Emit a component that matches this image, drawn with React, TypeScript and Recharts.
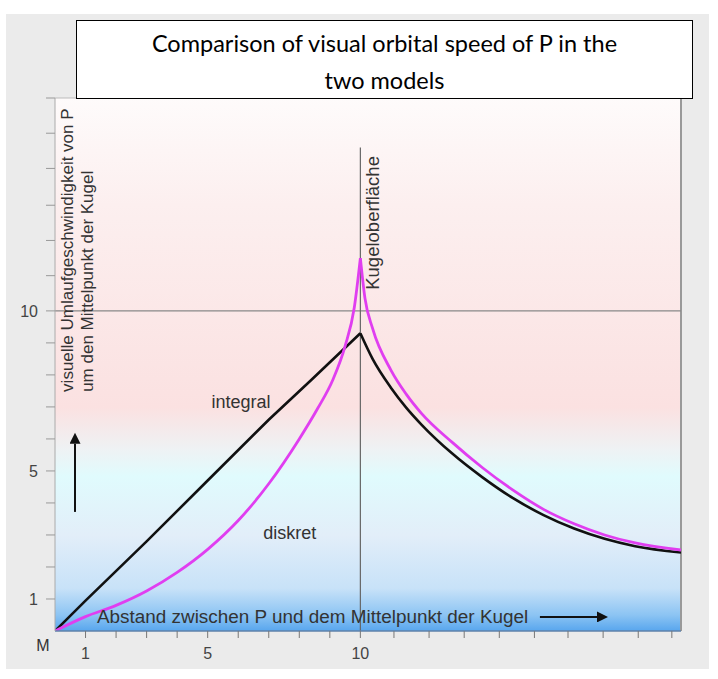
import { CartesianGrid, Line, LineChart, ReferenceDot, ReferenceLine, XAxis, YAxis } from "recharts"

// distance from M (x) -> visual orbital speed (y)
const integralInside = [
  { x: 0, y: 0 },
  { x: 1, y: 0.95 },
  { x: 3, y: 2.8 },
  { x: 5, y: 4.7 },
  { x: 7, y: 6.6 },
  { x: 8.4, y: 7.85 },
  { x: 10, y: 9.3 },
]
const integralOutside = [
  { x: 10, y: 9.3 },
  { x: 10.4, y: 8.5 },
  { x: 11, y: 7.6 },
  { x: 11.5, y: 6.98 },
  { x: 12, y: 6.45 },
  { x: 13, y: 5.55 },
  { x: 14, y: 4.8 },
  { x: 15, y: 4.15 },
  { x: 16, y: 3.62 },
  { x: 17, y: 3.2 },
  { x: 18, y: 2.88 },
  { x: 19, y: 2.65 },
  { x: 20.5, y: 2.45 },
]
const diskretInside = [
  { x: 0, y: 0 },
  { x: 1, y: 0.45 },
  { x: 2, y: 0.8 },
  { x: 3, y: 1.25 },
  { x: 4, y: 1.83 },
  { x: 5, y: 2.55 },
  { x: 6, y: 3.45 },
  { x: 7, y: 4.6 },
  { x: 8, y: 6.0 },
  { x: 8.6, y: 6.95 },
  { x: 9.1, y: 7.85 },
  { x: 9.5, y: 8.9 },
  { x: 9.8, y: 10.1 },
  { x: 10, y: 11.65 },
]
const diskretOutside = [
  { x: 10, y: 11.65 },
  { x: 10.15, y: 10.4 },
  { x: 10.4, y: 9.45 },
  { x: 11, y: 8.15 },
  { x: 11.5, y: 7.4 },
  { x: 12, y: 6.8 },
  { x: 13, y: 5.9 },
  { x: 14, y: 5.1 },
  { x: 15, y: 4.4 },
  { x: 16, y: 3.8 },
  { x: 17, y: 3.35 },
  { x: 18, y: 3.0 },
  { x: 19, y: 2.75 },
  { x: 20.5, y: 2.53 },
]

const xTicks = [1, 2, 3, 4, 5, 6, 7, 8, 9, 10, 11.1, 12.25, 13.4, 14.55, 15.7, 16.8, 17.95, 19.1, 20.2]
const xTickLabels = [1, 5, 10]
const yTicks = [1, 2, 3, 4, 5, 6, 7, 8, 9, 10, 11.1, 12.2, 13.3, 14.45, 15.55, 16.65]
const yTickLabels = [1, 5, 10]

const FONT = "'Liberation Sans', Arial, sans-serif"
const TEXT = "#333"

// rotated text, starting at the anchor point and running upwards
function RotLabel({ viewBox, text, size }: any) {
  const x = viewBox.x + viewBox.width / 2
  const y = viewBox.y + viewBox.height / 2
  return (
    <text
      x={x}
      y={y}
      fontSize={size}
      fill={TEXT}
      fontFamily={FONT}
      textAnchor="start"
      dominantBaseline="central"
      transform={`rotate(-90 ${x} ${y})`}
    >
      {text}
    </text>
  )
}

function PlainLabel({ viewBox, text, size, anchor = "middle", dx = 0, dy = 0 }: any) {
  const x = viewBox.x + viewBox.width / 2 + dx
  const y = viewBox.y + viewBox.height / 2 + dy
  return (
    <text x={x} y={y} fontSize={size} fill={TEXT} fontFamily={FONT} textAnchor={anchor} dominantBaseline="central">
      {text}
    </text>
  )
}

const arrowShape = (p: any) => (
  <line x1={p.x1} y1={p.y1} x2={p.x2} y2={p.y2} stroke="#111" strokeWidth={2} markerEnd="url(#arrowHead)" />
)

export default function App() {
  return (
    <div style={{ position: "absolute", left: 0, top: 0, width: 718, height: 679, background: "#fff" }}>
      <div style={{ position: "absolute", left: 6, top: 14, width: 703, height: 655, background: "#ebebeb" }} />
      <div style={{ position: "absolute", left: 0, top: 0 }}>
        <LineChart width={718} height={679} margin={{ top: 98, right: 37, bottom: 18, left: 15 }}>
          <defs>
            <linearGradient id="plotBg" x1="0" y1="0" x2="0" y2="1">
              <stop offset="0%" stopColor="#fefbfb" />
              <stop offset="20%" stopColor="#fcefef" />
              <stop offset="58%" stopColor="#fbe1e1" />
              <stop offset="66%" stopColor="#eef2f4" />
              <stop offset="71%" stopColor="#e0fbfd" />
              <stop offset="82%" stopColor="#e2eef9" />
              <stop offset="92%" stopColor="#c8e2f8" />
              <stop offset="97%" stopColor="#8cc4f3" />
              <stop offset="100%" stopColor="#58a6ee" />
            </linearGradient>
            <marker id="arrowHead" viewBox="0 0 10 10" refX="0" refY="5" markerWidth="7.5" markerHeight="5.5" orient="auto" markerUnits="strokeWidth">
              <path d="M0,0 L10,5 L0,10 z" fill="#111" />
            </marker>
          </defs>
          <CartesianGrid horizontal={false} vertical={false} fill="url(#plotBg)" />
          <XAxis
            type="number"
            dataKey="x"
            domain={[0, 20.5]}
            ticks={xTicks}
            interval={0}
            height={30}
            tickSize={7}
            tickMargin={10}
            tickFormatter={(v: number) => (xTickLabels.includes(v) ? String(v) : "")}
            axisLine={{ stroke: "#5f82aa", strokeWidth: 1.5 }}
            tickLine={{ stroke: "#777" }}
            tick={{ fill: "#444", fontSize: 16, fontFamily: FONT }}
            allowDataOverflow
          />
          <YAxis
            type="number"
            domain={[0, 16.65]}
            ticks={yTicks}
            interval={0}
            width={40}
            tickSize={9}
            tickMargin={8}
            tickFormatter={(v: number) => (yTickLabels.includes(v) ? String(v) : "")}
            axisLine={{ stroke: "#aaa" }}
            tickLine={{ stroke: "#999" }}
            tick={{ fill: "#444", fontSize: 16, fontFamily: FONT }}
            allowDataOverflow
          />
          <ReferenceLine y={16.65} stroke="#bbb" />
          <ReferenceLine x={20.5} stroke="#999" strokeWidth={2} />
          <ReferenceLine y={10} stroke="#888" strokeWidth={1.2} />
          <ReferenceLine segment={[{ x: 10, y: 0 }, { x: 10, y: 15.1 }]} stroke="#666" strokeWidth={1.2} />

          <Line data={integralInside} dataKey="y" type="linear" stroke="#111" strokeWidth={2.6} dot={false} isAnimationActive={false} />
          <Line data={integralOutside} dataKey="y" type="monotone" stroke="#111" strokeWidth={2.6} dot={false} isAnimationActive={false} />
          <Line data={diskretInside} dataKey="y" type="monotone" stroke="#e03ef0" strokeWidth={2.8} dot={false} isAnimationActive={false} />
          <Line data={diskretOutside} dataKey="y" type="monotone" stroke="#e03ef0" strokeWidth={2.8} dot={false} isAnimationActive={false} />

          {/* axis titles and annotations */}
          <ReferenceDot
            x={0.4}
            y={7.47}
            r={0}
            fill="none"
            stroke="none"
            label={<RotLabel text="visuelle Umlaufgeschwindigkeit von P" size={17} />}
          />
          <ReferenceDot
            x={1.05}
            y={7.47}
            r={0}
            fill="none"
            stroke="none"
            label={<RotLabel text="um den Mittelpunkt der Kugel" size={17} />}
          />
          <ReferenceLine segment={[{ x: 0.655, y: 3.72 }, { x: 0.655, y: 5.85 }]} shape={arrowShape} />
          <ReferenceDot
            x={1.375}
            y={0.44}
            r={0}
            fill="none"
            stroke="none"
            label={<PlainLabel text="Abstand zwischen P und dem Mittelpunkt der Kugel" size={18.9} anchor="start" />}
          />
          <ReferenceLine segment={[{ x: 15.88, y: 0.44 }, { x: 17.75, y: 0.44 }]} shape={arrowShape} />
          <ReferenceDot
            x={10.41}
            y={10.66}
            r={0}
            fill="none"
            stroke="none"
            label={<RotLabel text="Kugeloberfläche" size={18.5} />}
          />
          <ReferenceDot x={6.09} y={7.16} r={0} fill="none" stroke="none" label={<PlainLabel text="integral" size={18} />} />
          <ReferenceDot x={7.69} y={3.06} r={0} fill="none" stroke="none" label={<PlainLabel text="diskret" size={18} />} />
          <ReferenceDot x={0} y={0} r={0} fill="none" stroke="none" label={<PlainLabel text="M" size={16} dx={-12} dy={14} />} />
        </LineChart>
      </div>
      <div
        style={{
          position: "absolute",
          left: 76,
          top: 20,
          width: 617,
          height: 79,
          border: "1.5px solid #000",
          background: "#fff",
          fontFamily: "Lato, 'Open Sans', sans-serif",
          fontSize: 23.5,
          lineHeight: "37px",
          textAlign: "center",
          color: "#000",
          paddingTop: 4,
          boxSizing: "border-box",
        }}
      >
        Comparison of visual orbital speed of P in the
        <br />
        two models
      </div>
    </div>
  )
}
